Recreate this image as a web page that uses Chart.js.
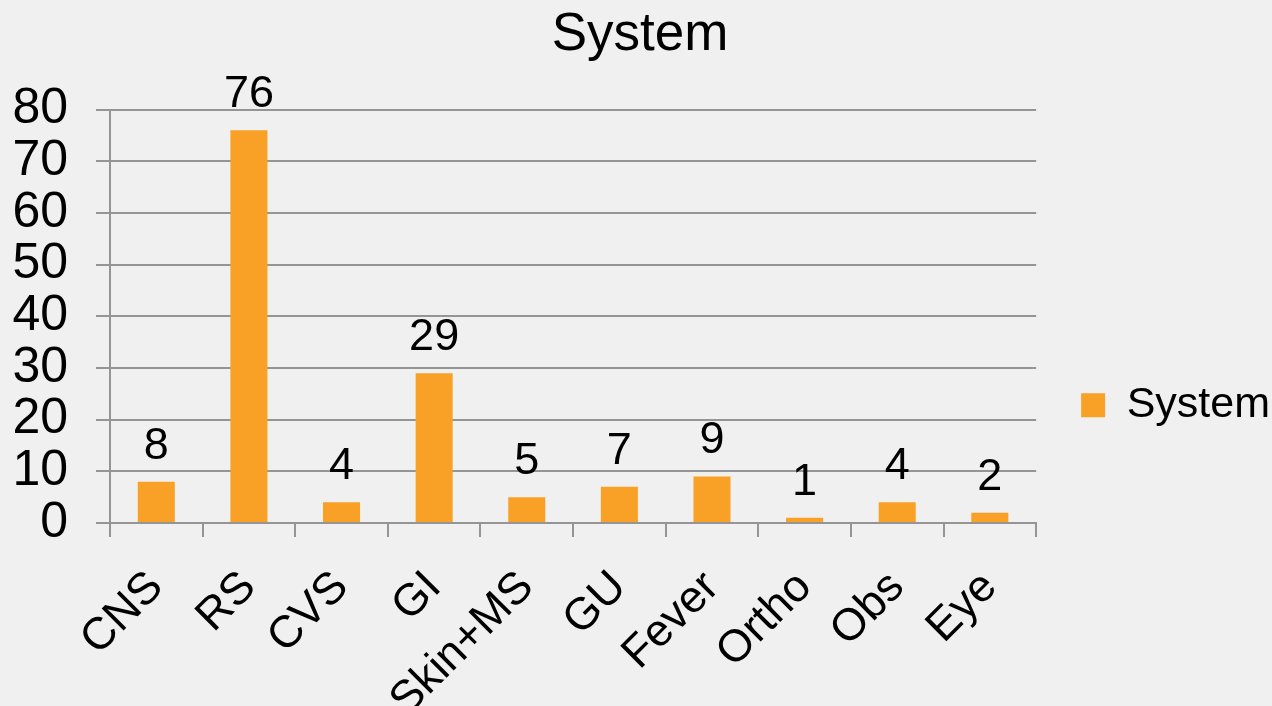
<!DOCTYPE html>
<html>
<head>
<meta charset="utf-8">
<script src="https://cdn.jsdelivr.net/npm/chart.js@4"></script>
<style>
  html, body { margin: 0; padding: 0; background: #f0f0f0; overflow: hidden; }
  #wrap { width: 1272px; height: 706px; }
</style>
</head>
<body>
<div id="wrap"><canvas id="grafico"></canvas></div>
<script>
const categories = ['CNS', 'RS', 'CVS', 'GI', 'Skin+MS', 'GU', 'Fever', 'Ortho', 'Obs', 'Eye'];
const systemValues = [8, 76, 4, 29, 5, 7, 9, 1, 4, 2];
const yTicks = [0, 10, 20, 30, 40, 50, 60, 70, 80];

const fontFam = "'Liberation Sans', Arial, sans-serif";
const orange = '#f9a126';
const gridColor = '#959595';

// value labels over the bars
const barLabels = {
  id: 'barLabels',
  afterDatasetsDraw(chart) {
    const ctx = chart.ctx;
    const meta = chart.getDatasetMeta(0);
    ctx.save();
    ctx.font = '45px ' + fontFam;
    ctx.fillStyle = '#000';
    ctx.textAlign = 'center';
    ctx.textBaseline = 'alphabetic';
    meta.data.forEach((bar, i) => {
      ctx.fillText(String(systemValues[i]), bar.x, bar.y - 23);
    });
    ctx.restore();
  }
};

const ctx = document.getElementById('grafico');
new Chart(ctx, {
  type: 'bar',
  data: {
    labels: categories,
    datasets: [{
      label: 'System',
      data: systemValues,
      backgroundColor: orange,
      barPercentage: 0.4,
      categoryPercentage: 1
    }]
  },
  options: {
    responsive: true,
    maintainAspectRatio: false,
    animation: false,
    layout: { padding: { left: 0, right: -8, top: 0, bottom: 0 } },
    plugins: {
      title: {
        display: true,
        text: 'System',
        color: '#000',
        font: { family: fontFam, size: 53, weight: 'normal' },
        padding: { top: 4, bottom: 42 }
      },
      legend: {
        position: 'right',
        // empty title only pushes the entry down a bit
        title: { display: true, text: ' ', font: { size: 12 }, padding: { top: 90, bottom: 0 } },
        labels: {
          color: '#000',
          font: { family: fontFam, size: 43 },
          boxWidth: 24,
          boxHeight: 24,
          padding: 45
        }
      },
      tooltip: { enabled: false }
    },
    scales: {
      x: {
        grid: {
          offset: true,
          drawOnChartArea: false,
          drawTicks: true,
          tickLength: 14,
          color: gridColor,
          lineWidth: 2
        },
        border: { display: true, color: gridColor, width: 2 },
        ticks: {
          color: '#000',
          font: { family: fontFam, size: 45 },
          maxRotation: 45,
          minRotation: 45,
          autoSkip: false,
          padding: 24
        },
        afterFit(scale) { scale.height = 183; }
      },
      y: {
        min: 0,
        max: 80,
        afterBuildTicks(scale) { scale.ticks = yTicks.map(v => ({ value: v })); },
        grid: {
          drawTicks: true,
          tickLength: 14,
          color: gridColor,
          lineWidth: 2
        },
        border: { display: true, color: gridColor, width: 2 },
        ticks: {
          color: '#000',
          font: { family: fontFam, size: 50 },
          autoSkip: false,
          padding: 28
        },
        afterFit(scale) { scale.width = 110; }
      }
    }
  },
  plugins: [barLabels]
});
</script>
</body>
</html>
